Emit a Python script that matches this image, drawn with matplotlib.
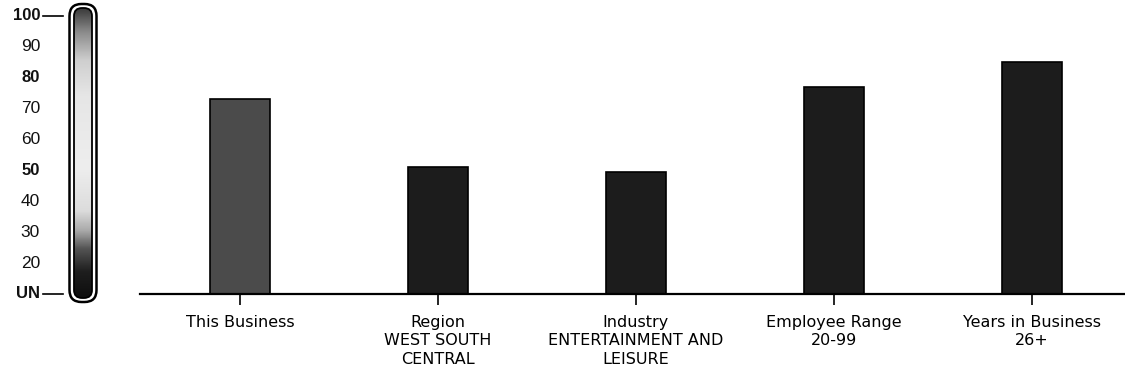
import matplotlib.pyplot as plt
import numpy as np
from matplotlib.colors import LinearSegmentedColormap
from matplotlib.patches import FancyBboxPatch

categories = ["This Business", "Region\nWEST SOUTH\nCENTRAL",
              "Industry\nENTERTAINMENT AND\nLEISURE", "Employee Range\n20-99",
              "Years in Business\n26+"]
values = [73, 51, 49.5, 77, 85]
bar_colors = ["#4b4b4b", "#1c1c1c", "#1c1c1c", "#1c1c1c", "#1c1c1c"]

scale_values = [100, 90, 80, 70, 60, 50, 40, 30, 20, 10]
scale_labels = ["100", "90", "80", "70", "60", "50", "40", "30", "20", "UN"]
scale_bold = ["100", "80", "50", "UN"]

W, H = 1125, 375
fig = plt.figure(figsize=(W / 100, H / 100), dpi=100)

def fx(px):
    return px / W

def fy(py):
    return 1 - py / H

# main bar axes: value 10 (UN) at y=294px, 100 at y=16px
ax = fig.add_axes([fx(140), fy(294), 1 - fx(140), fy(16) - fy(294)])
x = np.arange(len(categories))
ax.bar(x, values, width=0.30, color=bar_colors, edgecolor="black", linewidth=1.2)
ax.set_ylim(10, 100)
ax.set_xlim(-0.505, 4.47)
for s in ["top", "right", "left"]:
    ax.spines[s].set_visible(False)
ax.spines["bottom"].set_linewidth(1.6)
ax.set_yticks([])
ax.set_xticks(x)
ax.set_xticklabels(categories, fontsize=11.5, linespacing=1.3)
ax.tick_params(axis="x", direction="out", length=8, width=1.2, pad=7)

# overlay axes in pixel units for the colour scale
ov = fig.add_axes([0, 0, 1, 1], zorder=-1)
ov.set_xlim(0, W)
ov.set_ylim(H, 0)
ov.axis("off")

def val_to_px(v):
    return 294 - (v - 10) * (294 - 16) / 90.0

cmap = LinearSegmentedColormap.from_list("scale", [
    (0.00, "#0e0e0e"), (0.09, "#1e1e1e"), (0.17, "#555555"), (0.23, "#a8a8a8"),
    (0.30, "#dcdcdc"), (0.45, "#eeeeee"), (0.70, "#e6e6e6"), (0.82, "#cfcfcf"),
    (0.92, "#8a8a8a"), (1.00, "#3a3a3a")])
grad = np.linspace(0, 1, 256).reshape(-1, 1)
im = ov.imshow(grad, aspect="auto", cmap=cmap, origin="lower",
               extent=[74, 92, 298, 8])

clip = FancyBboxPatch((74, 8), 18, 290, boxstyle="round,pad=0,rounding_size=8",
                      facecolor="none", edgecolor="black", linewidth=1.3)
ov.add_patch(clip)
im.set_clip_path(clip)
outer = FancyBboxPatch((69.5, 4), 27, 298, boxstyle="round,pad=0,rounding_size=12",
                       facecolor="none", edgecolor="black", linewidth=1.8)
ov.add_patch(outer)

for v, lab in zip(scale_values, scale_labels):
    bold = lab in scale_bold
    ov.text(40, val_to_px(v), lab, ha="right", va="center",
            fontsize=12.5 if not bold else 12, family=["Liberation Sans", "DejaVu Sans"],
            fontweight="bold" if bold else "normal", color="#111111")
for v in [100, 10]:
    ov.plot([43, 63], [val_to_px(v), val_to_px(v)], color="black", linewidth=1.2)

fig.savefig("out.png", dpi=100, facecolor="white")
